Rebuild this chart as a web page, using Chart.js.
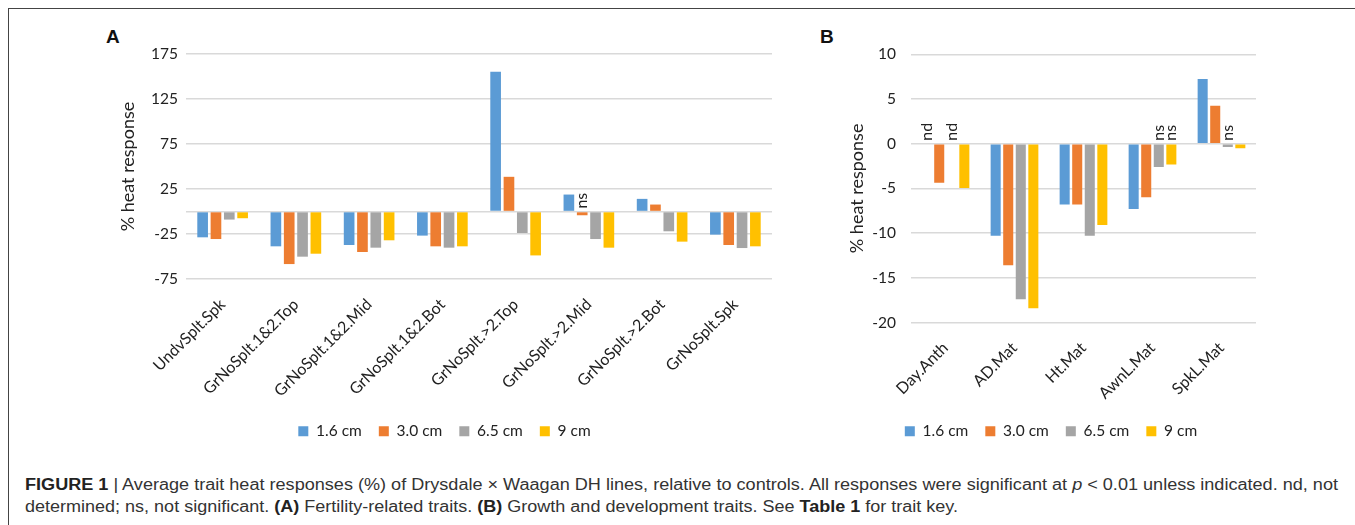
<!DOCTYPE html>
<html>
<head>
<meta charset="utf-8">
<script src="https://cdn.jsdelivr.net/npm/chart.js@4/dist/chart.umd.min.js"></script>
<style>
  html, body { margin: 0; padding: 0; background: #fff; }
  body { width: 1355px; height: 525px; position: relative; overflow: hidden; }
  #frameTop { position: absolute; left: 8px; top: 8px; width: 1347px; height: 0; border-top: 1px solid #444; }
  #frameLeft { position: absolute; left: 8px; top: 8px; width: 0; height: 517px; border-left: 1px solid #444; }
  .panel { position: absolute; font: bold 19px "Liberation Sans", Arial, sans-serif; color: #111; line-height: 1; }
  canvas { position: absolute; }
  .caption { position: absolute; left: 25px; font: 16px "Liberation Sans", Arial, sans-serif; color: #333;
             white-space: nowrap; line-height: 1; transform-origin: 0 0; }
  .caption b { color: #222; }
</style>
</head>
<body>
<div id="frameTop"></div>
<div id="frameLeft"></div>
<div class="panel" style="left:106px;top:27px;">A</div>
<div class="panel" style="left:820px;top:27px;">B</div>
<canvas id="chartA" width="700" height="439" style="left:100px;top:10px;"></canvas>
<canvas id="chartB" width="450" height="439" style="left:830px;top:10px;"></canvas>
<div class="caption" id="cap1" style="top:477px;"><b>FIGURE 1</b> | Average trait heat responses (%) of Drysdale × Waagan DH lines, relative to controls. All responses were significant at <i>p</i> &lt; 0.01 unless indicated. nd, not</div>
<div class="caption" id="cap2" style="top:499px;">determined; ns, not significant. <b>(A)</b> Fertility-related traits. <b>(B)</b> Growth and development traits. See <b>Table 1</b> for trait key.</div>

<script>
// Spike lengths (series) and their colours
const seriesLabels = ['1.6 cm', '3.0 cm', '6.5 cm', '9 cm'];
const seriesColors = ['#5B9BD5', '#ED7D31', '#A5A5A5', '#FFC000'];

// Panel A: fertility-related traits (% heat response)
const traitsA = ['UndvSplt.Spk', 'GrNoSplt.1&2.Top', 'GrNoSplt.1&2.Mid', 'GrNoSplt.1&2.Bot',
                 'GrNoSplt.>2.Top', 'GrNoSplt.>2.Mid', 'GrNoSplt.>2.Bot', 'GrNoSplt.Spk'];
const a16 = [-28.6, -38.6, -37.1, -26.7, 155.3, 18.9, 14.1, -25.6];
const a30 = [-30.5, -58.3, -44.9, -38.6, 38.6, -4.1, 7.8, -37.1];
const a65 = [-8.9, -50.1, -40.1, -40.1, -23.8, -30.5, -21.9, -40.5];
const a90 = [-7.4, -46.8, -31.9, -38.6, -48.7, -40.1, -33.4, -38.6];
const ticksA = [-75, -25, 0, 25, 75, 125, 175];
// [series index, trait index, note]
const notesA = [[1, 5, 'ns']];

// Panel B: growth and development traits (% heat response); null = not determined
const traitsB = ['Day.Anth', 'AD.Mat', 'Ht.Mat', 'AwnL.Mat', 'SpkL.Mat'];
const b16 = [null, -10.3, -6.8, -7.3, 7.24];
const b30 = [-4.36, -13.6, -6.8, -6.0, 4.24];
const b65 = [null, -17.4, -10.3, -2.6, -0.36];
const b90 = [-4.96, -18.4, -9.1, -2.34, -0.51];
const ticksB = [-20, -15, -10, -5, 0, 5, 10];
const notesB = [[0, 0, 'nd'], [2, 0, 'nd'], [2, 3, 'ns'], [3, 3, 'ns'], [2, 4, 'ns']];

const textColor = '#222';
const fontFamily = 'Lato, "Open Sans", sans-serif';

// Draws vertical "nd"/"ns" notes just above the zero line at a bar's slot
const notesPlugin = {
  id: 'barNotes',
  afterDatasetsDraw(chart, args, opts) {
    const ctx = chart.ctx;
    const y0 = chart.scales.y.getPixelForValue(0);
    ctx.save();
    ctx.fillStyle = textColor;
    ctx.font = '16px ' + fontFamily;
    ctx.textAlign = 'left';
    ctx.textBaseline = 'middle';
    for (const [si, ci, txt] of opts.notes) {
      const bar = chart.getDatasetMeta(si).data[ci];
      ctx.save();
      ctx.translate(bar.x, y0 - 3);
      ctx.rotate(-Math.PI / 2);
      ctx.fillText(txt, 0, 0);
      ctx.restore();
    }
    ctx.restore();
  }
};

function makeChart(id, cats, values, yTicks, notes, geo) {
  return new Chart(document.getElementById(id), {
    type: 'bar',
    data: {
      labels: cats,
      datasets: values.map((v, i) => ({
        label: seriesLabels[i],
        data: v,
        backgroundColor: seriesColors[i],
        borderWidth: 0,
        categoryPercentage: 0.728,
        barPercentage: 0.8
      }))
    },
    options: {
      responsive: false,
      animation: false,
      devicePixelRatio: 1,
      layout: { padding: { left: geo.padL, right: geo.padR, top: geo.padT, bottom: 0 } },
      plugins: {
        legend: {
          position: 'bottom',
          labels: {
            boxWidth: 10, boxHeight: 10, padding: 17,
            color: textColor, font: { family: fontFamily, size: 15.5 }
          }
        },
        tooltip: { enabled: false },
        barNotes: { notes: notes }
      },
      scales: {
        x: {
          grid: { display: false },
          border: { display: false },
          ticks: {
            autoSkip: false, minRotation: 45, maxRotation: 45,
            padding: geo.xPad, color: textColor,
            font: { family: fontFamily, size: 16 }
          },
          afterFit: s => { s.height = geo.xh; }
        },
        y: {
          min: yTicks[0], max: yTicks[yTicks.length - 1],
          afterBuildTicks: s => { s.ticks = yTicks.map(v => ({ value: v })); },
          grid: { color: '#d9d9d9', lineWidth: 1.5, drawTicks: false },
          border: { display: false },
          ticks: {
            padding: geo.yPad, color: textColor,
            font: { family: fontFamily, size: 15.5 },
            callback: v => (geo.zeroLabel || v !== 0) ? String(v) : ''
          },
          title: {
            display: true, text: '% heat response', color: textColor,
            font: { family: fontFamily, size: 18 }, padding: { top: 0, bottom: 0 }
          },
          afterFit: s => { s.width = geo.yw; }
        }
      }
    },
    plugins: [notesPlugin]
  });
}

makeChart('chartA', traitsA, [a16, a30, a65, a90], ticksA, notesA,
  { padL: 17, padR: 28, padT: 44, yw: 69, xh: 127.4, xPad: 8, yPad: 8, zeroLabel: false });
makeChart('chartB', traitsB, [b16, b30, b65, b90], ticksB, notesB,
  { padL: 16, padR: 24, padT: 44.3, yw: 65, xh: 84, xPad: 8, yPad: 15, zeroLabel: true });

// Fit caption lines to the text block width
function fitCaption() {
  const widths = { cap1: 1313, cap2: 933 };
  for (const id in widths) {
    const el = document.getElementById(id);
    el.style.transform = 'none';
    const w = el.getBoundingClientRect().width;
    el.style.transform = 'scaleX(' + (widths[id] / w) + ')';
  }
}
fitCaption();
if (document.fonts && document.fonts.ready) document.fonts.ready.then(fitCaption);
</script>
</body>
</html>
